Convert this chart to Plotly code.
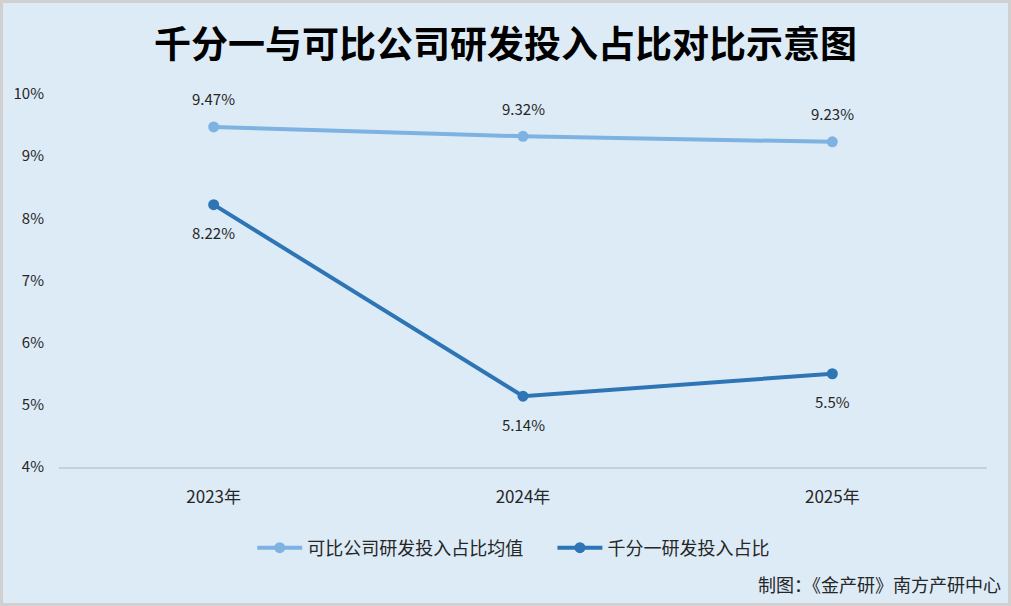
import plotly.graph_objects as go

# data
years = ["2023年", "2024年", "2025年"]
peer_avg = [9.47, 9.32, 9.23]
qfy = [8.22, 5.14, 5.5]
peer_labels = ["9.47%", "9.32%", "9.23%"]
qfy_labels = ["8.22%", "5.14%", "5.5%"]
y_ticks = [4, 5, 6, 7, 8, 9, 10]
y_tick_text = ["4%", "5%", "6%", "7%", "8%", "9%", "10%"]

font_cn = "Noto Sans CJK SC"
light = "#7EB2E2"
dark = "#2E75B6"

fig = go.Figure()

fig.add_trace(go.Scatter(
    x=years, y=peer_avg,
    mode="lines+markers",
    name="可比公司研发投入占比均值" + "&nbsp;" * 6,
    line=dict(color=light, width=4),
    marker=dict(size=11, color=light),
))

fig.add_trace(go.Scatter(
    x=years, y=qfy,
    mode="lines+markers",
    name="千分一研发投入占比",
    line=dict(color=dark, width=4),
    marker=dict(size=11, color=dark),
))

# data labels
annots = []
for x, y, t in zip(years, peer_avg, peer_labels):
    annots.append(dict(x=x, y=y, text=t, showarrow=False, yshift=28,
                       font=dict(size=15, color="#262626")))
for x, y, t in zip(years, qfy, qfy_labels):
    annots.append(dict(x=x, y=y, text=t, showarrow=False, yshift=-28,
                       font=dict(size=15, color="#262626")))

annots.append(dict(
    text="制图：《金产研》南方产研中心",
    xref="paper", yref="paper",
    x=1.017, y=-0.314,
    xanchor="right", yanchor="middle",
    showarrow=False,
    font=dict(size=18, color="#262626"),
))

fig.update_layout(
    width=1011, height=606,
    paper_bgcolor="#DDEBF7",
    plot_bgcolor="#DDEBF7",
    margin=dict(l=59, r=24, t=94, b=139),
    font=dict(family=font_cn, size=14, color="#262626"),
    title=dict(
        text="<b>千分一与可比公司研发投入占比对比示意图</b>",
        x=0.5, xanchor="center",
        y=0.925, yanchor="middle",
        font=dict(size=37, color="#000000", family=font_cn),
    ),
    showlegend=True,
    legend=dict(
        orientation="h",
        x=0.49, xanchor="center",
        y=-0.217, yanchor="middle",
        font=dict(size=18, color="#262626"),
        bgcolor="rgba(0,0,0,0)",
        itemwidth=45,
    ),
    xaxis=dict(
        range=[-0.5, 2.5],
        showgrid=False,
        showline=True, linecolor="#C8CFD8", linewidth=2,
        ticks="outside", ticklen=14, tickcolor="rgba(0,0,0,0)",
        tickfont=dict(size=17, color="#262626"),
        zeroline=False,
    ),
    yaxis=dict(
        range=[4, 10],
        tickvals=y_ticks, ticktext=y_tick_text,
        showgrid=False, zeroline=False, showline=False,
        ticks="outside", ticklen=11, tickcolor="rgba(0,0,0,0)",
        tickfont=dict(size=15, color="#262626"),
    ),
    annotations=annots,
    shapes=[
        dict(
            type="rect", xref="paper", yref="paper",
            x0=-59 / 928, x1=1 + 24 / 928, y0=-139 / 373, y1=1 + 94 / 373,
            line=dict(color="#D0D0D0", width=6),
            fillcolor="rgba(0,0,0,0)",
            layer="below",
        )
    ],
)

fig.write_html("out.html", config={"displayModeBar": False},
               post_script="document.body.style.margin='0';")
